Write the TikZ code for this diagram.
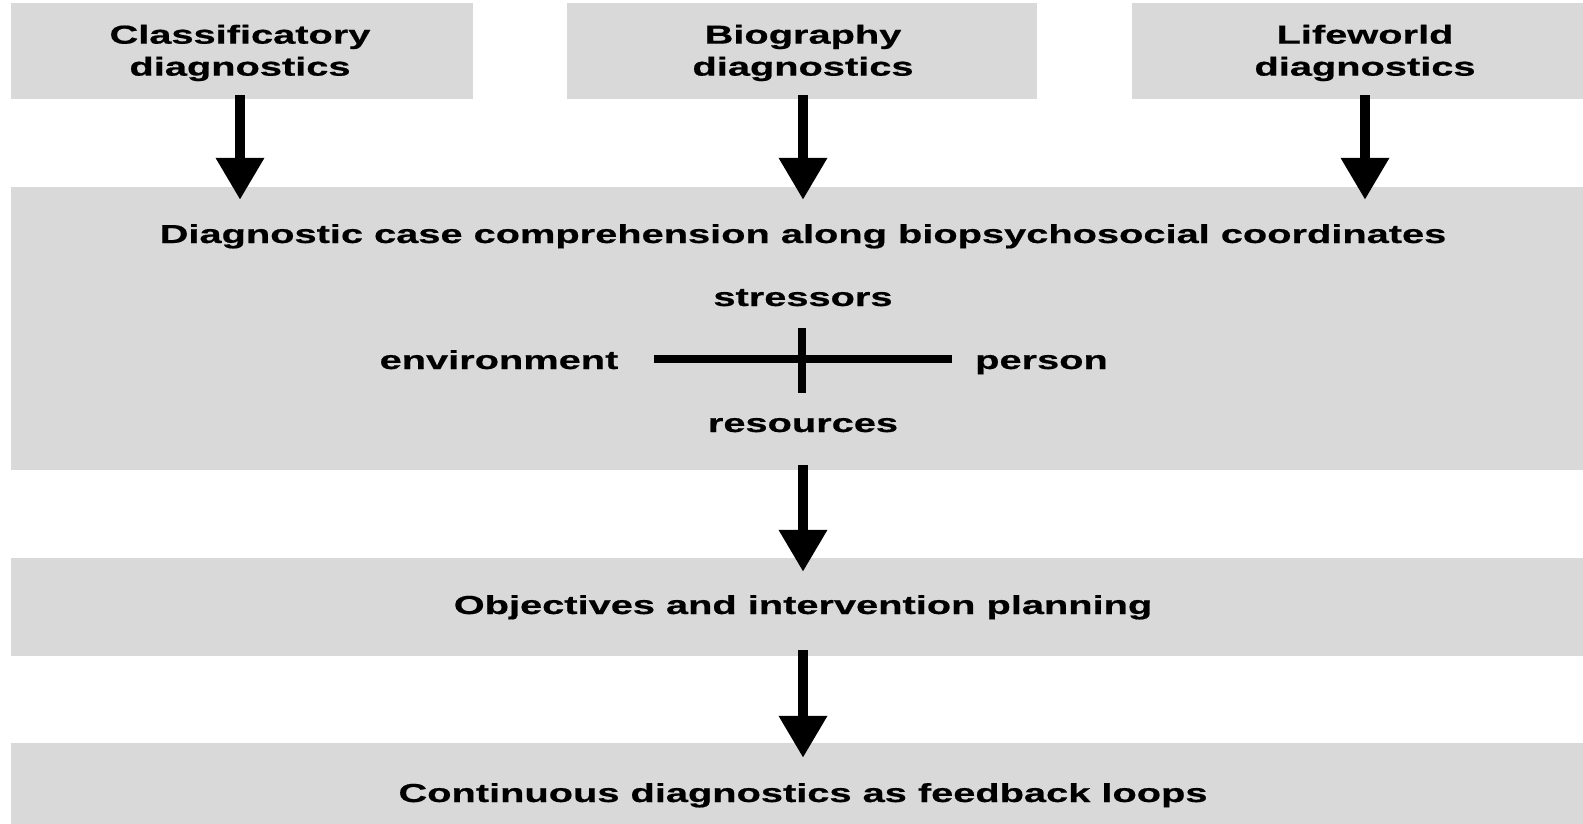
\documentclass[tikz,border=0pt]{standalone}
\usepackage{fontspec}
\newfontfamily\lab{Liberation Sans Bold}[FakeStretch=1.53,FakeBold=0.6]
\usetikzlibrary{arrows.meta}
\definecolor{boxgray}{HTML}{D9D9D9}
\tikzset{
  box/.style={fill=boxgray, draw=none, inner sep=0pt, anchor=center},
  txt/.style={font=\lab\fontsize{26}{32}\selectfont, align=center, inner sep=0pt, text=black},
  lbl/.style={txt, anchor=base},
  flow/.style={line width=10pt, -{Triangle[length=42pt,width=46pt]}},
  axis/.style={line width=7.5pt}
}
\begin{document}
\begin{tikzpicture}[x=1pt,y=-1pt]
\useasboundingbox (0,0) rectangle (1583,824);
% boxes
\node[box, minimum width=462pt, minimum height=96pt] (b1) at (242,51) {};
\node[box, minimum width=470pt, minimum height=96pt] (b2) at (802,51) {};
\node[box, minimum width=451pt, minimum height=96pt] (b3) at (1357.5,51) {};
\node[box, minimum width=1572pt, minimum height=283pt] (big) at (797,328.5) {};
\node[box, minimum width=1572pt, minimum height=98pt] (obj) at (797,607) {};
\node[box, minimum width=1572pt, minimum height=81pt] (cont) at (797,783.5) {};
% texts
\node[txt] (t1) at (240,53) {Classificatory\\diagnostics};
\node[txt] (t2) at (803,53) {Biography\\diagnostics};
\node[txt] (t3) at (1365,53) {Lifeworld\\diagnostics};
\node[lbl] (title) at (803,243) {Diagnostic case comprehension along biopsychosocial coordinates};
\node[lbl] (str) at (803,306) {stressors};
\node[lbl] (env) at (499,369) {environment};
\node[lbl] (per) at (1041.5,369) {person};
\node[lbl] (res) at (803,432) {resources};
\node[lbl] (tobj) at (803,614) {Objectives and intervention planning};
\node[lbl] (tcont) at (803,802) {Continuous diagnostics as feedback loops};
% cross
\coordinate (cl) at (654,359);
\coordinate (cr) at (952,359);
\coordinate (ct) at (802,328);
\coordinate (cb) at (802,393);
\draw[axis] (cl) -- (cr);
\draw[axis] (ct) -- (cb);
% arrows
\draw[flow] ([yshift=4pt]b1.south -| t1) -- ([yshift=-13pt]t1 |- big.north);
\draw[flow] ([yshift=4pt]b2.south -| t2) -- ([yshift=-13pt]t2 |- big.north);
\draw[flow] ([yshift=4pt]b3.south -| t3) -- ([yshift=-13pt]t3 |- big.north);
\draw[flow] ([yshift=5pt]big.south -| str) -- ([yshift=-14pt]str |- obj.north);
\draw[flow] ([yshift=6pt]obj.south -| str) -- ([yshift=-15pt]str |- cont.north);
\end{tikzpicture}
\end{document}
